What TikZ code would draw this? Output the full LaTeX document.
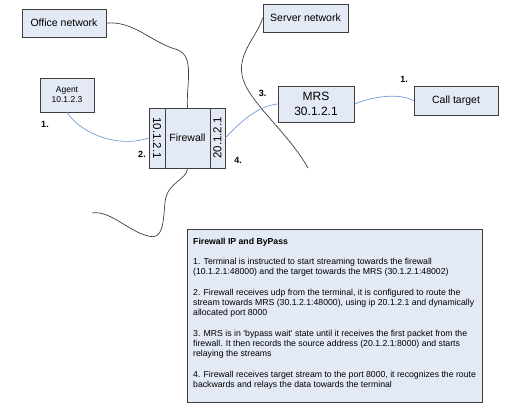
\documentclass[tikz,border=0pt]{standalone}
\usepackage{fontspec}
\setmainfont{Liberation Sans}
\usetikzlibrary{positioning}
\definecolor{boxfill}{RGB}{227,234,245}
\definecolor{boxline}{RGB}{62,62,62}
\definecolor{streamblue}{RGB}{112,156,214}
\newcommand*{\fwht}{60pt}
\newcommand*{\midfont}{\fontsize{10.5}{12}\selectfont}
\tikzset{
  netbox/.style={draw=boxline, fill=boxfill, line width=0.8pt, inner sep=0pt},
  netline/.style={draw=boxline, line width=0.7pt},
  stream/.style={draw=streamblue, line width=0.7pt},
  steplabel/.style={font=\fontsize{9}{10}\selectfont\bfseries, inner sep=0pt}
}

\begin{document}
\begin{tikzpicture}[x=1pt, y=-1pt]
    \useasboundingbox (0,0) rectangle (510,415);
    % boxes
    \node [netbox, minimum width=84pt, minimum height=28pt, font=\midfont] (office) at (64,23) {Office network};
    \node [netbox, minimum width=54pt, minimum height=34pt, align=center, font=\fontsize{8.5}{10}\selectfont] (agent) at (67,95) {Agent\\10.1.2.3};
    \node [netbox, minimum width=45pt, minimum height=\fwht, font=\midfont] (fw) at (187.5,138) {Firewall};
    \node [netbox, minimum width=16pt, minimum height=\fwht, font=\fontsize{11.5}{12}\selectfont] (fwin) at (157,138) {\rotatebox{-90}{10.1.2.1}};
    \node [netbox, minimum width=15pt, minimum height=\fwht, font=\fontsize{11.5}{12}\selectfont] (fwout) at (217.5,138) {\rotatebox{90}{20.1.2.1}};
    \node [netbox, minimum width=85pt, minimum height=28pt, font=\midfont] (server) at (305.5,18) {Server network};
    \node [netbox, minimum width=76pt, minimum height=36pt, align=center, font=\fontsize{12}{15}\selectfont] (mrs) at (316,104) {MRS\\30.1.2.1};
    \node [netbox, minimum width=84pt, minimum height=29pt, font=\midfont] (target) at (456,100.5) {Call target};
    % network edges
    \coordinate (srvend) at (308,168);
    \coordinate (fwend) at (92,213);
    \draw [netline] (office.east) .. controls (135,21) and (150,42) .. (178,50) .. controls (195,57) and (186,85) .. (fw.north);
    \draw [netline] (server.west) .. controls (258,35) and (238,52) .. (242,75) .. controls (246,100) and (288,132) .. (srvend);
    \draw [netline] (fw.south) .. controls (187,180) and (167,182) .. (165,202) .. controls (163,225) and (163,240) .. (148,236) .. controls (128,231) and (110,210) .. (fwend);
    % streams
    \draw [stream] (agent.south) .. controls (82,135) and (120,148) .. (fwin.west);
    \draw [stream] (fwout.east) .. controls (240,122) and (258,106) .. (mrs.west);
    \draw [stream] (mrs.east) .. controls (375,96) and (398,93) .. (target.west);
    % step numbers
    \node [steplabel] (stepa) at (45,124) {1.};
    \node [steplabel] (stepb) at (142,154) {2.};
    \node [steplabel] (stepc) at (262.5,93.5) {3.};
    \node [steplabel] (stepd) at (238,160.5) {4.};
    \node [steplabel] (stepe) at (404,79) {1.};
    % explanation
    \node [netbox, minimum width=295pt, minimum height=173pt, anchor=north west] (note) at (187,229) {};
    \node [anchor=north west, align=left, inner sep=0pt, font=\fontsize{8.7}{10}\selectfont] (notetext) at (193,237.5) {\textbf{Firewall IP and ByPass}\\[10pt]
        1. Terminal is instructed to start streaming towards the firewall\\
        (10.1.2.1:48000) and the target towards the MRS (30.1.2.1:48002)\\[11pt]
        2. Firewall receives udp from the terminal, it is configured to route the\\
        stream towards MRS (30.1.2.1:48000), using ip 20.1.2.1 and dynamically\\
        allocated port 8000\\[11pt]
        3. MRS is in `bypass wait' state until it receives the first packet from the\\
        firewall. It then records the source address (20.1.2.1:8000) and starts\\
        relaying the streams\\[11pt]
        4. Firewall receives target stream to the port 8000, it recognizes the route\\
        backwards and relays the data towards the terminal};
\end{tikzpicture}
\end{document}
